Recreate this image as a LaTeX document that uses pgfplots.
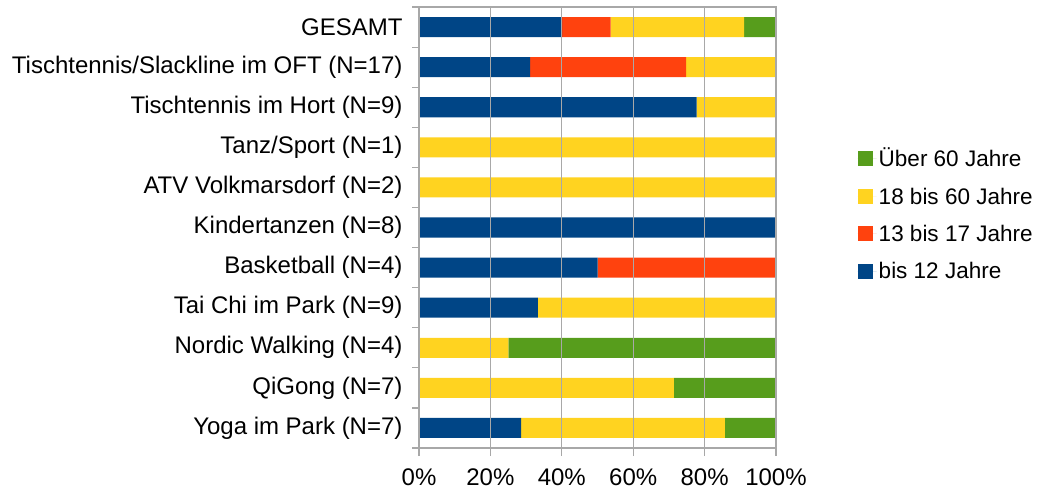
\documentclass[border=0pt]{standalone}
\usepackage{pgfplots}
\pgfplotsset{compat=1.18}
\usepackage{fontspec}
\setmainfont{Liberation Sans}
\definecolor{cblue}{HTML}{004586}
\definecolor{cred}{HTML}{FF420E}
\definecolor{cyel}{HTML}{FFD320}
\definecolor{cgreen}{HTML}{579D1C}
\definecolor{gridgray}{HTML}{A8A8A8}
\begin{document}
\begin{tikzpicture}[font=\fontsize{24}{28}\selectfont]
\begin{axis}[
  xbar stacked,
  scale only axis, width=357pt, height=441pt,
  xmin=0, xmax=100, ymin=-0.5, ymax=10.5, y dir=reverse,
  bar width=0.5,
  clip=false,
  /pgf/number format/assume math mode=true,
  axis line style={draw=gridgray, line width=1.2pt},
  xtick={0,20,...,100},
  xticklabel={\pgfmathprintnumber{\tick}\%},
  ytick={0,...,10},
  yticklabels={GESAMT,Tischtennis/Slackline im OFT (N=17),Tischtennis im Hort (N=9),Tanz/Sport (N=1),ATV Volkmarsdorf (N=2),Kindertanzen (N=8),Basketball (N=4),Tai Chi im Park (N=9),Nordic Walking (N=4),QiGong (N=7),Yoga im Park (N=7)},
  tick align=outside, xtick pos=bottom, ytick pos=left,
  major tick length=8pt,
  tick style={draw=gridgray, line width=1.2pt},
  ytick style={draw=none},
  xmajorgrids, major grid style={draw=gridgray, line width=1.2pt},
  xticklabel style={yshift=-9pt},
  yticklabel style={xshift=-5pt},
  legend style={draw=none, fill=none, at={(rel axis cs:1.220,0.69)}, anchor=north west,
    row sep=15.5pt, font=\fontsize{22.5}{26}\selectfont, nodes={inner sep=2pt}},
  legend cell align=left,
  reverse legend,
  legend image code/.code={\fill[#1] (0pt,-7.5pt) rectangle (15pt,7.5pt); \path (0pt,0pt) -- (19pt,0pt);},
]
% grid lines, frame and ticks as thin filled strips
\pgfplotsinvokeforeach{0,20,40,60,80,100}{
  \fill[gridgray] ([xshift=-0.6pt,yshift=-8pt]axis cs:#1,10.5) rectangle ([xshift=0.6pt]axis cs:#1,-0.5);
}
\pgfplotsinvokeforeach{-0.5,0.5,1.5,2.5,3.5,4.5,5.5,6.5,7.5,8.5,9.5,10.5}{
  \fill[gridgray] ([xshift=-7pt,yshift=-0.6pt]axis cs:0,#1) rectangle ([yshift=0.6pt]axis cs:0,#1);
}
\fill[gridgray] ([yshift=-0.6pt]axis cs:0,-0.5) rectangle ([yshift=0.6pt]axis cs:100,-0.5);
\fill[gridgray] ([yshift=-0.6pt]axis cs:0,10.5) rectangle ([yshift=0.6pt]axis cs:100,10.5);
\addplot[fill=cblue, draw=none] coordinates {(40.1,0) (31.1,1) (77.8,2) (0,3) (0,4) (100,5) (50,6) (33.3,7) (0,8) (0,9) (28.6,10)};
\addlegendentry{bis 12 Jahre}
\addplot[fill=cred, draw=none] coordinates {(13.6,0) (43.7,1) (0,2) (0,3) (0,4) (0,5) (50,6) (0,7) (0,8) (0,9) (0,10)};
\addlegendentry{13 bis 17 Jahre}
\addplot[fill=cyel, draw=none] coordinates {(37.4,0) (25.2,1) (22.2,2) (100,3) (100,4) (0,5) (0,6) (66.7,7) (25,8) (71.4,9) (57.1,10)};
\addlegendentry{18 bis 60 Jahre}
\addplot[fill=cgreen, draw=none] coordinates {(8.9,0) (0,1) (0,2) (0,3) (0,4) (0,5) (0,6) (0,7) (75,8) (28.6,9) (14.3,10)};
\addlegendentry{Über 60 Jahre}
\coordinate (bl) at (rel axis cs:-1.1737,-0.102);
\coordinate (tr) at (rel axis cs:1.7451,1.0159);
\end{axis}
\pgfresetboundingbox
\path (bl) rectangle (tr);
\end{tikzpicture}
\end{document}
